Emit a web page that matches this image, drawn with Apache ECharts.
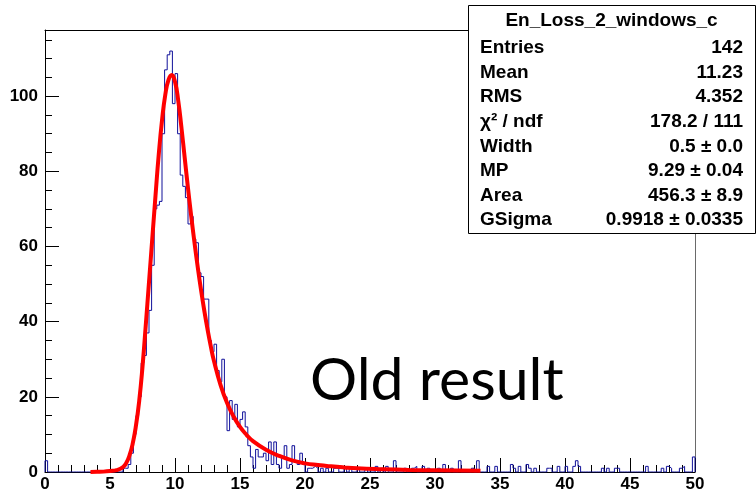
<!DOCTYPE html>
<html>
<head>
<meta charset="utf-8">
<script src="https://cdn.jsdelivr.net/npm/echarts@6/dist/echarts.min.js"></script>
<style>
  html, body { margin: 0; padding: 0; background: #ffffff; }
  #chart { width: 756px; height: 493px; }
</style>
</head>
<body>
<div id="chart"></div>
<script>
// Energy-loss histogram: 250 bins of width 0.2 from 0 to 50
const binLow = 0;
const binWidth = 0.2;
const counts = [
  3, 0, 0, 0, 0, 0, 0, 0, 0, 0,
  0, 0, 0, 0, 0, 0, 0, 0, 0, 0,
  0, 0, 0, 0, 0, 0, 0, 0, 0, 0,
  1, 1, 2, 5, 10, 15, 20, 29, 31, 37,
  43, 55, 70, 71, 72, 90, 107, 111, 112, 98,
  106, 90, 79, 76, 73, 66, 68, 62, 61, 53,
  52, 46, 46, 35, 32, 34, 27, 24, 30, 20,
  11, 19, 14, 18, 12, 14, 16, 12, 7, 4,
  1, 6, 4, 4, 5, 3, 8, 2, 8, 2,
  1, 4, 7, 1, 2, 7, 3, 2, 5, 2,
  0, 1, 1, 1.5, 1, 0, 1, 0, 1, 0,
  0, 1, 1, 0, 0, 1, 0, 1, 0, 0,
  1, 0, 0, 1, 0, 0, 0, 1.5, 0, 1,
  0, 1.5, 0, 0, 3, 0, 0, 0, 1, 0,
  0, 1, 1.5, 0, 0, 1.5, 0, 1, 0, 0,
  0, 1, 0, 2, 0, 0, 1, 0, 0, 3,
  0, 0, 0, 0, 1, 0, 3, 0, 0, 0,
  1.5, 0, 0, 1.5, 0, 0, 0, 0, 0, 2,
  1, 0, 1.5, 0, 0, 2, 1, 0, 1, 0,
  0, 0, 0, 1, 1, 0, 0, 1.5, 0, 0,
  1.5, 0, 0, 1.5, 3, 1.5, 0, 0, 0, 0,
  0, 0, 0, 0, 1, 0, 1, 0, 0, 1,
  1, 0, 0, 0, 0, 0, 0, 0, 0, 0,
  0, 1.5, 0, 0, 0, 0, 0, 1, 0, 1.5,
  1, 0, 0, 0, 1, 1.5, 0, 0, 0, 4
];

// Landau (x) Gauss fit curve, sampled
const fitX = [3.5, 4.0, 4.5, 5.0, 5.5, 6.0, 6.25, 6.5, 6.75, 7.0, 7.25, 7.5, 7.75, 8.0,
  8.25, 8.5, 8.75, 9.0, 9.25, 9.5, 9.75, 10.0, 10.25, 10.5, 10.75, 11.0, 11.25, 11.5,
  11.75, 12.0, 12.25, 12.5, 12.75, 13.0, 13.5, 14.0, 14.5, 15.0, 15.5, 16.0, 17.0,
  18.0, 19.0, 20.0, 21.0, 22.0, 23.0, 24.0, 26.0, 28.0, 30.0, 33.5];
const fitY = [0.0, 0.05, 0.1, 0.25, 0.5, 1.3, 2.4, 4.4, 7.6, 12.4, 19.0, 28.0, 39.0, 50.5,
  62.0, 73.5, 84.5, 93.5, 100.3, 104.3, 105.6, 103.8, 98.8, 91.5, 83.5, 75.5, 68.0, 61.0,
  54.5, 48.5, 43.0, 38.0, 33.5, 29.5, 23.2, 18.4, 14.8, 12.0, 9.9, 8.2, 5.9,
  4.3, 3.1, 2.3, 1.85, 1.5, 1.22, 1.0, 0.75, 0.56, 0.45, 0.3];

// Axis ranges
const xMin = 0, xMax = 50, xStep = 5;
const yMin = 0, yMax = 117.6, yStep = 20, yMinorStep = 5;

// Statistics box
const statsTitle = 'En_Loss_2_windows_c';
const statsLabels = ['Entries', 'Mean', 'RMS', 'χ² / ndf', 'Width', 'MP', 'Area', 'GSigma'];
const statsValues = ['142', '11.23', '4.352', '178.2 / 111', '0.5 ± 0.0', '9.29 ± 0.04', '456.3 ± 8.9', '0.9918 ± 0.0335'];

const annotation = 'Old result';

// Step outline of the histogram
const histPoints = [[binLow, 0]];
counts.forEach((c, i) => histPoints.push([binLow + i * binWidth, c]));
histPoints.push([binLow + counts.length * binWidth, counts[counts.length - 1]]);
histPoints.push([binLow + counts.length * binWidth, 0]);

const fitPoints = fitX.map((x, i) => [x, fitY[i]]);

const labelFont = '"Liberation Sans", Arial, Helvetica, sans-serif';

const graphics = [];
const boxX = 468, boxY = 5, boxW = 287, boxH = 228;
graphics.push({
  type: 'rect', z: 100,
  shape: { x: boxX + 0.5, y: boxY + 0.5, width: boxW, height: boxH },
  style: { fill: '#ffffff', stroke: '#000000', lineWidth: 1 }
});
graphics.push({
  type: 'text', z: 101,
  style: { text: statsTitle, x: boxX + boxW / 2, y: 21, textAlign: 'center', textVerticalAlign: 'middle',
           font: 'bold 19px ' + labelFont, fill: '#000' }
});
const rowY0 = 48, rowStep = 24.6;
statsLabels.forEach((lab, i) => {
  graphics.push({
    type: 'text', z: 101,
    style: { text: lab, x: 480, y: rowY0 + i * rowStep, textAlign: 'left', textVerticalAlign: 'middle',
             font: 'bold 19px ' + labelFont, fill: '#000' }
  });
  graphics.push({
    type: 'text', z: 101,
    style: { text: statsValues[i], x: 743, y: rowY0 + i * rowStep, textAlign: 'right', textVerticalAlign: 'middle',
             font: 'bold 19px ' + labelFont, fill: '#000' }
  });
});
graphics.push({
  type: 'text', z: 90,
  style: { text: annotation, x: 310, y: 381, textAlign: 'left', textVerticalAlign: 'middle',
           font: '59px Lato, "Open Sans", sans-serif', fill: '#000' }
});

const chart = echarts.init(document.getElementById('chart'), null, { renderer: 'canvas' });
chart.setOption({
  animation: false,
  backgroundColor: '#ffffff',
  grid: {
    left: 45, right: 61, top: 30, bottom: 21,
    show: false, containLabel: false, outerBoundsMode: 'none'
  },
  xAxis: [
    {
      type: 'value', min: xMin, max: xMax, interval: xStep, position: 'bottom',
      axisLine: { show: true, onZero: false, lineStyle: { color: '#000', width: 1 } },
      axisTick: { show: true, inside: true, length: 14, lineStyle: { color: '#000', width: 1 } },
      minorTick: { show: true, splitNumber: 5, length: 7, lineStyle: { color: '#000', width: 1 } },
      splitLine: { show: false },
      axisLabel: { show: true, margin: 4, color: '#000', fontFamily: labelFont, fontWeight: 'bold', fontSize: 17,
                   showMinLabel: true, showMaxLabel: true, hideOverlap: false }
    },
    {
      // frame top edge
      type: 'value', min: xMin, max: xMax, position: 'top',
      axisLine: { show: true, onZero: false, lineStyle: { color: '#000', width: 1 } },
      axisTick: { show: false }, axisLabel: { show: false }, splitLine: { show: false }
    }
  ],
  yAxis: [
    {
      type: 'value', min: yMin, max: yMax, interval: yStep, position: 'left',
      axisLine: { show: true, onZero: false, lineStyle: { color: '#000', width: 1 } },
      axisTick: { show: true, inside: true, length: 14, lineStyle: { color: '#000', width: 1 } },
      splitLine: { show: false },
      axisLabel: { show: true, margin: 7, color: '#000', fontFamily: labelFont, fontWeight: 'bold', fontSize: 17,
                   showMinLabel: true, showMaxLabel: false, hideOverlap: false }
    },
    {
      type: 'value', min: yMin, max: yMax, interval: yMinorStep, position: 'left',
      axisLine: { show: false },
      axisTick: { show: true, inside: true, length: 7, lineStyle: { color: '#000', width: 1 } },
      splitLine: { show: false },
      axisLabel: { show: false }
    },
    {
      // frame right edge
      type: 'value', min: yMin, max: yMax, position: 'right',
      axisLine: { show: true, onZero: false, lineStyle: { color: '#6a6a6a', width: 1 } },
      axisTick: { show: false }, axisLabel: { show: false }, splitLine: { show: false }
    }
  ],
  series: [
    {
      type: 'line', name: 'hist', xAxisIndex: 0, yAxisIndex: 0,
      data: histPoints, step: 'end', showSymbol: false, symbol: 'none',
      lineStyle: { color: '#10109a', width: 1 }, z: 2, silent: true
    },
    {
      type: 'line', name: 'fit', xAxisIndex: 0, yAxisIndex: 0,
      data: fitPoints, smooth: 0.5, showSymbol: false, symbol: 'none',
      lineStyle: { color: '#ff0000', width: 4 }, z: 3, silent: true
    }
  ],
  graphic: graphics
});
</script>
</body>
</html>
